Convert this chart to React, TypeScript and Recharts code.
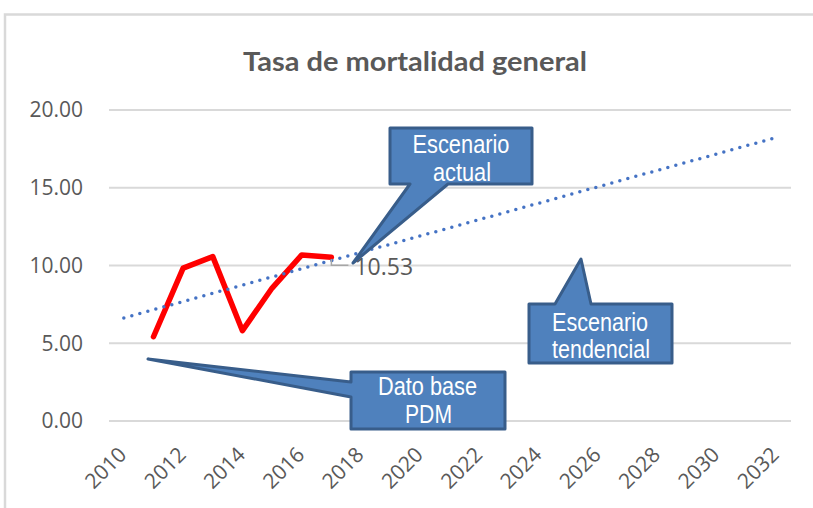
import React from "react";
import { ComposedChart, Line, XAxis, YAxis, CartesianGrid } from "recharts";

const title = "Tasa de mortalidad general";
const actualYears = [2011, 2012, 2013, 2014, 2015, 2016, 2017];
const actualValues = [5.42, 9.83, 10.57, 5.81, 8.55, 10.68, 10.53];
const trendYears = [2010, 2032];
const trendValues = [6.63, 18.23];
const xTicks = [2010, 2012, 2014, 2016, 2018, 2020, 2022, 2024, 2026, 2028, 2030, 2032];
const yTicks = [0, 5, 10, 15, 20];
const labelYear = 2017;

const actualData = actualYears.map((year, i) => ({ year, value: actualValues[i] }));
const trendData = trendYears.map((year, i) => ({ year, trend: trendValues[i] }));

const GRAY = "#595959";
const FONT = "'Open Sans', 'Noto Sans', sans-serif";
const NARROW = "'Liberation Sans Narrow', 'Arial Narrow', 'Liberation Sans', sans-serif";

const XTick = (props: any) => {
  const { x, y, payload } = props;
  const px = x + 4;
  const py = y + 35;
  return (
    <text x={px} y={py} transform={`rotate(-45, ${px}, ${py})`} textAnchor="end" fontSize={21} fill={GRAY} fontFamily={FONT}>
      {payload.value}
    </text>
  );
};

const renderLabel = (props: any) => {
  const { x, y, index, value } = props;
  if (actualData[index]?.year !== labelYear) return null;
  return (
    <g>
      <polyline points={`${x},${y + 2} ${x},${y + 8} ${x + 17},${y + 8}`} fill="none" stroke="#A6A6A6" strokeWidth={1.5} />
      <text x={x + 23} y={y + 18} fontSize={23} fill={GRAY} fontFamily={FONT}>
        {Number(value).toFixed(2)}
      </text>
    </g>
  );
};

const CalloutText = ({ x, y, w, children }: any) => (
  <text x={x} y={y} textAnchor="middle" fontSize={25} fill="#FFFFFF" fontFamily={NARROW} textLength={w} lengthAdjust="spacingAndGlyphs">
    {children}
  </text>
);

export default function App() {
  return (
    <div style={{ position: "absolute", left: 0, top: 0, width: 813, height: 508, background: "#fff", overflow: "hidden" }}>
      <ComposedChart width={813} height={508} margin={{ top: 110, right: 22, left: 0, bottom: 27 }}>
        <CartesianGrid vertical={false} stroke="#D9D9D9" strokeWidth={2} />
        <XAxis
          type="number"
          dataKey="year"
          domain={[2009.5, 2032.5]}
          ticks={xTicks}
          interval={0}
          allowDataOverflow
          axisLine={false}
          tickLine={false}
          tickSize={0}
          tickMargin={0}
          height={60}
          tick={<XTick />}
        />
        <YAxis
          type="number"
          domain={[0, 20]}
          ticks={yTicks}
          width={109}
          axisLine={false}
          tickLine={false}
          tickSize={0}
          tickMargin={26}
          tickFormatter={(v: number) => v.toFixed(2)}
          tick={{ fontSize: 21, fill: GRAY, fontFamily: FONT }}
        />
        <Line
          data={actualData}
          dataKey="value"
          stroke="#FF0000"
          strokeWidth={5.5}
          strokeLinejoin="round"
          strokeLinecap="round"
          dot={false}
          activeDot={false}
          isAnimationActive={false}
          label={renderLabel}
        />
        <Line
          data={trendData}
          dataKey="trend"
          stroke="#4472C4"
          strokeWidth={3.5}
          strokeDasharray="0 8.3"
          strokeLinecap="round"
          dot={false}
          activeDot={false}
          connectNulls
          isAnimationActive={false}
        />
      </ComposedChart>
      <svg width={813} height={508} style={{ position: "absolute", left: 0, top: 0, pointerEvents: "none" }}>
        <rect x={5} y={14.5} width={900} height={600} fill="none" stroke="#D9D9D9" strokeWidth={2.5} />
        <text x={415} y={71} textAnchor="middle" fontSize={27} fontWeight="bold" fill={GRAY} fontFamily="Lato, 'Open Sans', sans-serif" textLength={344} lengthAdjust="spacingAndGlyphs">
          {title}
        </text>
        <g fill="#4F81BD" stroke="#385D8A" strokeWidth={3} strokeLinejoin="round">
          <path d="M390,128 H532 V184 H448 L353,263 L410,184 H390 Z" />
          <path d="M529,304 H555 L581,259 L591,304 H672 V363 H529 Z" />
          <path d="M351,372 H505 V429 H351 V397 L148,359 L351,382 Z" />
        </g>
        <CalloutText x={461} y={152.5} w={97}>Escenario</CalloutText>
        <CalloutText x={462} y={181} w={58}>actual</CalloutText>
        <CalloutText x={600} y={330.5} w={96}>Escenario</CalloutText>
        <CalloutText x={601} y={358} w={98}>tendencial</CalloutText>
        <CalloutText x={427.5} y={395} w={99}>Dato base</CalloutText>
        <CalloutText x={428.5} y={423} w={47}>PDM</CalloutText>
      </svg>
    </div>
  );
}
